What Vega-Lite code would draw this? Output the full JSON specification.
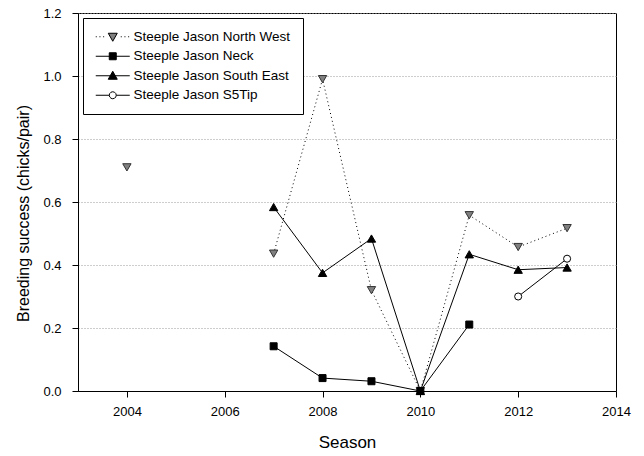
{
  "$schema": "https://vega.github.io/schema/vega-lite/v6.json",
  "width": 538,
  "height": 378,
  "autosize": "none",
  "padding": {"left": 78, "top": 13, "right": 28, "bottom": 65},
  "background": "white",
  "config": {
    "font": "Liberation Sans",
    "view": {"stroke": "black", "strokeWidth": 1},
    "axis": {
      "domainColor": "black",
      "tickColor": "black",
      "tickSize": 6,
      "labelColor": "black",
      "labelFont": "Liberation Sans",
      "labelFontSize": 13,
      "titleFont": "Liberation Sans",
      "titleFontWeight": "normal",
      "titleColor": "black"
    },
    "legend": {
      "orient": "none",
      "legendX": 5,
      "legendY": 5,
      "fillColor": "white",
      "strokeColor": "black",
      "padding": 12,
      "rowPadding": 4.5,
      "symbolSize": 100,
      "symbolOpacity": 1,
      "symbolStrokeWidth": 1,
      "labelOffset": 25,
      "labelFont": "Liberation Sans",
      "labelFontSize": 13.5,
      "labelColor": "black",
      "labelLimit": 300
    }
  },
  "data": {
    "values": [
      {"season": 2004, "site": "Steeple Jason North West", "run": 1, "value": 0.71},
      {"season": 2007, "site": "Steeple Jason North West", "run": 2, "value": 0.436},
      {"season": 2008, "site": "Steeple Jason North West", "run": 2, "value": 0.99},
      {"season": 2009, "site": "Steeple Jason North West", "run": 2, "value": 0.32},
      {"season": 2010, "site": "Steeple Jason North West", "run": 2, "value": 0.0},
      {"season": 2011, "site": "Steeple Jason North West", "run": 2, "value": 0.558},
      {"season": 2012, "site": "Steeple Jason North West", "run": 2, "value": 0.457},
      {"season": 2013, "site": "Steeple Jason North West", "run": 2, "value": 0.517},
      {"season": 2007, "site": "Steeple Jason Neck", "run": 2, "value": 0.142},
      {"season": 2008, "site": "Steeple Jason Neck", "run": 2, "value": 0.041},
      {"season": 2009, "site": "Steeple Jason Neck", "run": 2, "value": 0.031},
      {"season": 2010, "site": "Steeple Jason Neck", "run": 2, "value": 0.0},
      {"season": 2011, "site": "Steeple Jason Neck", "run": 2, "value": 0.211},
      {"season": 2007, "site": "Steeple Jason South East", "run": 2, "value": 0.584},
      {"season": 2008, "site": "Steeple Jason South East", "run": 2, "value": 0.375},
      {"season": 2009, "site": "Steeple Jason South East", "run": 2, "value": 0.484},
      {"season": 2010, "site": "Steeple Jason South East", "run": 2, "value": 0.0},
      {"season": 2011, "site": "Steeple Jason South East", "run": 2, "value": 0.434},
      {"season": 2012, "site": "Steeple Jason South East", "run": 2, "value": 0.385},
      {"season": 2013, "site": "Steeple Jason South East", "run": 2, "value": 0.392},
      {"season": 2012, "site": "Steeple Jason S5Tip", "run": 2, "value": 0.30},
      {"season": 2013, "site": "Steeple Jason S5Tip", "run": 2, "value": 0.42}
    ]
  },
  "encoding": {
    "x": {
      "field": "season",
      "type": "quantitative",
      "scale": {"domain": [2003, 2014], "nice": false, "zero": false},
      "axis": {
        "title": "Season",
        "titleFontSize": 17,
        "values": [2004, 2006, 2008, 2010, 2012, 2014],
        "format": "d",
        "grid": false,
        "labelPadding": 8,
        "titlePadding": 16,
        "labelFlush": false
      }
    },
    "y": {
      "field": "value",
      "type": "quantitative",
      "scale": {"domain": [0, 1.2], "nice": false},
      "axis": {
        "title": "Breeding success (chicks/pair)",
        "titleFontSize": 16,
        "values": [0, 0.2, 0.4, 0.6, 0.8, 1.0, 1.2],
        "format": ".1f",
        "grid": true,
        "gridColor": "#9a9a9a",
        "gridDash": [1, 2],
        "gridWidth": 1,
        "labelPadding": 11,
        "titlePadding": 11,
        "titleY": 200,
        "labelFlush": false
      }
    }
  },
  "layer": [
    {
      "transform": [{"filter": "datum.site === 'Steeple Jason North West'"}],
      "mark": {"type": "line", "stroke": "black", "strokeWidth": 1, "strokeDash": [1, 3]},
      "encoding": {"detail": {"field": "run", "type": "nominal"}}
    },
    {
      "transform": [{"filter": "datum.site !== 'Steeple Jason North West'"}],
      "mark": {"type": "line", "stroke": "black", "strokeWidth": 1},
      "encoding": {"detail": {"field": "site", "type": "nominal"}}
    },
    {
      "transform": [{"filter": "datum.site === 'Steeple Jason North West'"}],
      "mark": {"type": "point", "shape": "triangle-down", "filled": true, "fill": "#808080", "stroke": "#333333", "strokeWidth": 1, "size": 70, "opacity": 1}
    },
    {
      "transform": [{"filter": "datum.site === 'Steeple Jason Neck'"}],
      "mark": {"type": "point", "shape": "square", "filled": true, "fill": "black", "stroke": "black", "strokeWidth": 1, "size": 49, "opacity": 1}
    },
    {
      "transform": [{"filter": "datum.site === 'Steeple Jason South East'"}],
      "mark": {"type": "point", "shape": "triangle-up", "filled": true, "fill": "black", "stroke": "black", "strokeWidth": 1, "size": 70, "opacity": 1}
    },
    {
      "transform": [{"filter": "datum.site === 'Steeple Jason S5Tip'"}],
      "mark": {"type": "point", "shape": "circle", "filled": true, "fill": "white", "stroke": "black", "strokeWidth": 1, "size": 50, "opacity": 1}
    },
    {
      "mark": {"type": "point", "filled": true, "stroke": "black", "strokeWidth": 1, "size": 0},
      "encoding": {
        "shape": {
          "field": "site",
          "type": "nominal",
          "scale": {
            "domain": ["Steeple Jason North West", "Steeple Jason Neck", "Steeple Jason South East", "Steeple Jason S5Tip"],
            "range": [
              "M-1.2,0h0.2M-0.46,0h0.2M0.28,0h0.2M3.8,0h0.2M4.54,0h0.2M5.28,0h0.2M1.3,-0.7L3.1,-0.7L2.2,0.9Z",
              "M-1.2,0H5.6M1.5,-0.7H2.9V0.7H1.5Z",
              "M-1.2,0H5.6M1.3,0.7L3.1,0.7L2.2,-0.9Z",
              "M-1.2,0H1.5M2.9,0H5.6M2.9,0L2.806,0.35L2.55,0.606L2.2,0.7L1.85,0.606L1.594,0.35L1.5,0L1.594,-0.35L1.85,-0.606L2.2,-0.7L2.55,-0.606L2.806,-0.35Z"
            ]
          },
          "legend": {"title": null}
        },
        "fill": {
          "field": "site",
          "type": "nominal",
          "scale": {
            "domain": ["Steeple Jason North West", "Steeple Jason Neck", "Steeple Jason South East", "Steeple Jason S5Tip"],
            "range": ["#808080", "black", "black", "white"]
          },
          "legend": {"title": null}
        }
      }
    }
  ]
}
